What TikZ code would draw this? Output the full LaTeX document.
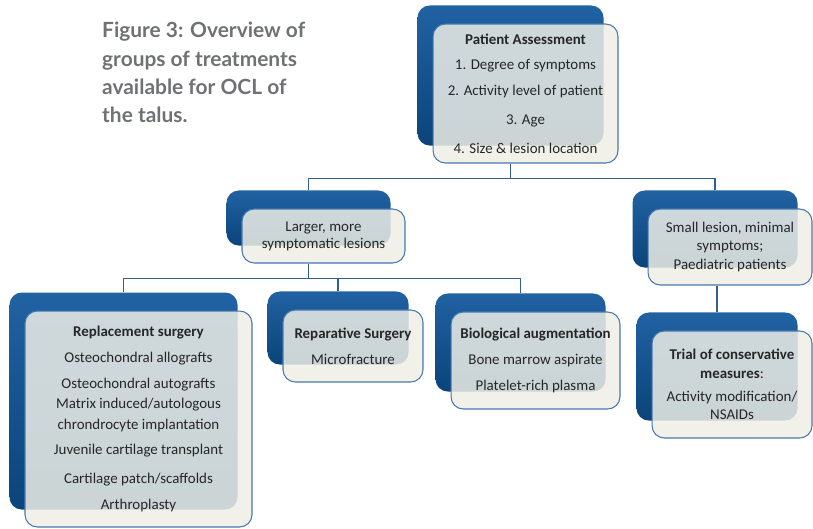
\documentclass[tikz,border=0pt]{standalone}
\usepackage{fontspec}
\setmainfont{Carlito}
\newfontfamily\capfont{Lato}
\usetikzlibrary{fit,backgrounds}
\definecolor{bluetop}{RGB}{33,98,163}
\definecolor{bluebot}{RGB}{10,68,122}
\definecolor{boxfill}{RGB}{238,238,230}
\definecolor{boxline}{RGB}{70,120,175}
\definecolor{linkcol}{RGB}{50,95,140}
\definecolor{capgrey}{RGB}{112,113,116}
\begin{document}
\begin{tikzpicture}[x=0.02cm,y=-0.02cm,
    front/.style={draw=boxline, line width=0.6pt, fill=boxfill, fill opacity=0.85, text opacity=1,
      rounded corners=7pt, align=center, inner sep=0pt, text=black!85,
      font=\fontsize{8.5}{14.7}\selectfont},
    back/.style={rounded corners=7pt, top color=bluetop, bottom color=bluebot, inner sep=0pt},
    link/.style={draw=linkcol, line width=0.7pt}]
  \useasboundingbox (0,0) rectangle (813,528);
  \node[anchor=north west, align=left, text=capgrey, font=\capfont\bfseries\fontsize{11.9}{16.1}\selectfont] (cap) at (96,16)
    {Figure 3: Overview of\\groups of treatments\\available for OCL of\\the talus.};
  \node[front, minimum width=3.7cm, minimum height=2.78cm] (pa) at (525.5,93.5)
    {\textbf{Patient Assessment}\\1. Degree of symptoms\\2. Activity level of patient\\[1.7pt]3. Age\\[1.7pt]4. Size \& lesion location};
  \node[front, minimum width=3.26cm, minimum height=1.08cm, font=\fontsize{8.5}{9.6}\selectfont] (lg) at (323.5,236)
    {Larger, more\\symptomatic lesions};
  \node[front, minimum width=3.28cm, minimum height=1.52cm, font=\fontsize{8.5}{10.7}\selectfont] (sm) at (730,247)
    {Small lesion, minimal\\symptoms;\\Paediatric patients};
  \node[front, minimum width=4.54cm, minimum height=4.32cm] (rp) at (138.5,419)
    {\textbf{Replacement surgery}\\Osteochondral allografts\\Osteochondral autografts\\[-3.4pt]Matrix induced/autologous\\[-2.8pt]chrondrocyte implantation\\Juvenile cartilage transplant\\[1.7pt]Cartilage patch/scaffolds\\Arthroplasty};
  \node[front, minimum width=2.8cm, minimum height=1.44cm] (rs) at (353,346)
    {\textbf{Reparative Surgery}\\Microfracture};
  \node[front, minimum width=3.38cm, minimum height=1.94cm] (ba) at (535.5,360.5)
    {\textbf{Biological augmentation}\\Bone marrow aspirate\\Platelet-rich plasma};
  \node[front, minimum width=3.2cm, minimum height=2.14cm, font=\fontsize{8.5}{10.5}\selectfont] (tc) at (732,384.5)
    {\textbf{Trial of conservative}\\\textbf{measures}:\\[2.5pt]Activity modification/\\NSAIDs};
  \begin{scope}[on background layer]
    \foreach \n in {pa,lg,sm,rp,rs,ba,tc}
      \node[back, fit=(\n), xshift=-0.3cm, yshift=0.36cm] (b\n) {};
  \end{scope}
  \draw[link] (bpa.center |- pa.south) -- ++(0,15) -| (blg.north);
  \draw[link] (bpa.center |- pa.south) -- ++(0,15) -| (bsm.north);
  \foreach \n in {rp,rs,ba}
    \draw[link] (blg.center |- lg.south) -- ++(0,15) -| (b\n.north);
  \draw[link] (btc.north |- sm.south) -- (btc.north);
\end{tikzpicture}
\end{document}
